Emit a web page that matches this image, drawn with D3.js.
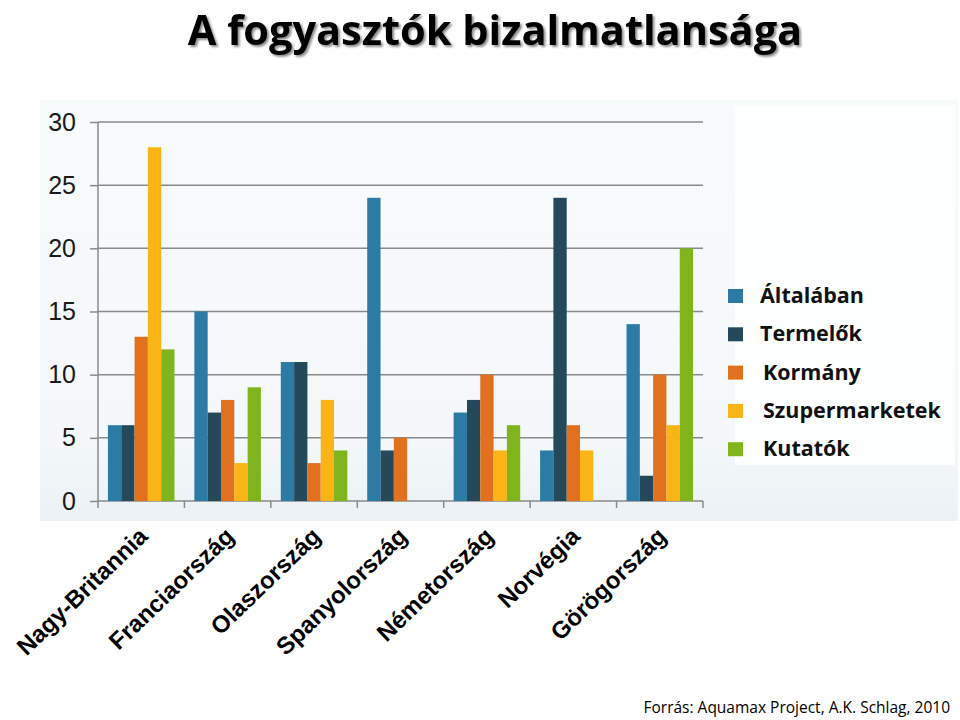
<!DOCTYPE html>
<html>
<head>
<meta charset="utf-8">
<script src="https://cdn.jsdelivr.net/npm/d3@7"></script>
<style>
    body { margin: 0; background: #fff; }
    svg { display: block; }
</style>
</head>
<body>
<div id="chart"></div>
<script>
// Data
let countries = ["Nagy-Britannia", "Franciaország", "Olaszország", "Spanyolország", "Németország", "Norvégia", "Görögország"];
let series = ["Általában", "Termelők", "Kormány", "Szupermarketek", "Kutatók"];
let altalaban = [6, 15, 11, 24, 7, 4, 14];
let termelok = [6, 7, 11, 4, 8, 24, 2];
let kormany = [13, 8, 3, 5, 10, 6, 10];
let szupermarketek = [28, 3, 8, 0, 4, 4, 6];
let kutatok = [12, 9, 4, 0, 6, 0, 20];
let yTicks = [0, 5, 10, 15, 20, 25, 30];
let colors = ["#2b7ba4", "#23495b", "#e1711f", "#fbb415", "#80b41c"];

let values = [altalaban, termelok, kormany, szupermarketek, kutatok];
let rows = [];
countries.forEach((c, i) => {
    series.forEach((s, j) => rows.push({ country: c, series: s, value: values[j][i] }));
});

let width = 960, height = 720;
let svg = d3.select("#chart").append("svg")
    .attr("width", width)
    .attr("height", height);

let defs = svg.append("defs");
let grad = defs.append("linearGradient").attr("id", "panel").attr("x1", 0).attr("y1", 0).attr("x2", 0).attr("y2", 1);
grad.append("stop").attr("offset", "0%").attr("stop-color", "#f8fbfc");
grad.append("stop").attr("offset", "80%").attr("stop-color", "#f4f8fa");
grad.append("stop").attr("offset", "100%").attr("stop-color", "#ebf1f5");
let shadow = defs.append("filter").attr("id", "shadow").attr("x", "-5%").attr("y", "-20%").attr("width", "110%").attr("height", "150%");
shadow.append("feDropShadow").attr("dx", 2).attr("dy", 2).attr("stdDeviation", 1.2).attr("flood-color", "#000").attr("flood-opacity", 0.45);

// Panel behind the chart (pasted picture in the slide)
svg.append("rect")
    .attr("x", 40).attr("y", 100)
    .attr("width", 918).attr("height", 421)
    .attr("fill", "url(#panel)");
svg.append("rect")
    .attr("x", 735).attr("y", 105)
    .attr("width", 220).attr("height", 360)
    .attr("fill", "#fdfefe");

// Scales
let x = d3.scaleBand()
    .domain(countries)
    .range([98, 703])
    .paddingInner(0.23)
    .paddingOuter(0.115);
let xs = d3.scaleBand()
    .domain(series)
    .range([0, x.bandwidth()]);
let y = d3.scaleLinear()
    .domain([0, 30])
    .range([501, 122]);
let color = d3.scaleOrdinal().domain(series).range(colors);

// Grid lines + y labels
let yAxis = svg.append("g")
    .attr("transform", "translate(98,0)")
    .call(d3.axisLeft(y).tickValues(yTicks).tickSize(8).tickPadding(14));
yAxis.select(".domain").attr("stroke", "#8a8a8a").attr("stroke-width", 1.5).attr("d", "M0,122V501");
yAxis.selectAll(".tick line").attr("stroke", "#8a8a8a").attr("stroke-width", 1.5);
yAxis.selectAll(".tick text")
    .attr("fill", "#1a1a1a")
    .style("font-family", "'Liberation Sans', Arial, sans-serif")
    .style("font-size", "25px");
svg.append("g").selectAll("line")
    .data(yTicks)
    .join("line")
    .attr("x1", 98).attr("x2", 703)
    .attr("y1", d => y(d)).attr("y2", d => y(d))
    .attr("stroke", "#8a8a8a")
    .attr("stroke-width", 1.5);

// Bottom ticks between categories
let bounds = countries.map(c => x(c) - x.step() * 0.115).concat([703]);
svg.append("g").selectAll("line")
    .data(bounds)
    .join("line")
    .attr("x1", d => d).attr("x2", d => d)
    .attr("y1", 501).attr("y2", 508)
    .attr("stroke", "#8a8a8a")
    .attr("stroke-width", 1.5);

// Bars
svg.append("g").selectAll("rect")
    .data(rows.filter(d => d.value > 0))
    .join("rect")
    .attr("x", d => x(d.country) + xs(d.series))
    .attr("y", d => y(d.value))
    .attr("width", xs.bandwidth())
    .attr("height", d => y(0) - y(d.value))
    .attr("fill", d => color(d.series));

// Rotated country labels
svg.append("g").selectAll("text")
    .data(countries)
    .join("text")
    .attr("transform", d => `translate(${x(d) + x.bandwidth() / 2 + 8},538) rotate(-44)`)
    .attr("text-anchor", "end")
    .attr("fill", "#000")
    .style("font-family", "'Liberation Sans', Arial, sans-serif")
    .style("font-weight", "bold")
    .style("font-size", "24px")
    .text(d => d);

// Legend
let legend = svg.append("g").selectAll("g")
    .data(series)
    .join("g")
    .attr("transform", (d, i) => `translate(728,${296 + i * 38.3})`);
legend.append("rect")
    .attr("x", 0).attr("y", -7)
    .attr("width", 15).attr("height", 14)
    .attr("fill", d => color(d));
legend.append("text")
    .attr("x", (d, i) => i < 2 ? 32 : 35)
    .attr("y", 7)
    .attr("fill", "#111")
    .style("font-family", "'Open Sans', sans-serif")
    .style("font-weight", "bold")
    .style("font-size", "21.5px")
    .text(d => d);

// Title
svg.append("text")
    .attr("x", 495).attr("y", 44.5)
    .attr("text-anchor", "middle")
    .attr("filter", "url(#shadow)")
    .attr("fill", "#000")
    .style("font-family", "'Open Sans', sans-serif")
    .style("font-weight", "bold")
    .style("font-size", "41.5px")
    .text("A fogyasztók bizalmatlansága");

// Source
svg.append("text")
    .attr("x", 950).attr("y", 713)
    .attr("text-anchor", "end")
    .attr("fill", "#000")
    .style("font-family", "'Open Sans', sans-serif")
    .style("font-size", "15.5px")
    .text("Forrás: Aquamax Project, A.K. Schlag, 2010");
</script>
</body>
</html>
